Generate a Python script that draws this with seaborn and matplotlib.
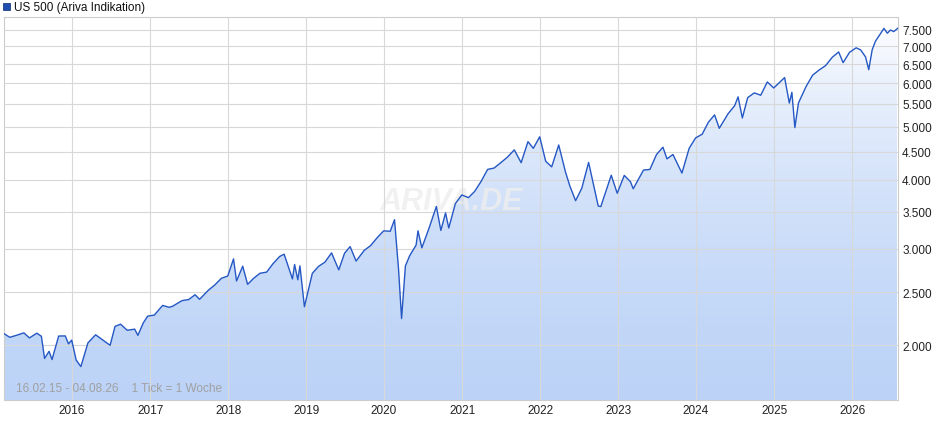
import matplotlib.pyplot as plt
import matplotlib.dates as mdates
import matplotlib.ticker as mticker
import numpy as np
import pandas as pd
import seaborn as sns

sns.set_style('white')
plt.rcParams['font.family'] = ['Liberation Sans', 'DejaVu Sans']

dates = ['2015-02-16', '2015-03-15', '2015-04-15', '2015-05-20', '2015-06-15', '2015-07-20',
         '2015-08-10', '2015-08-25', '2015-09-15', '2015-09-29', '2015-10-30', '2015-11-30', '2015-12-15', '2015-12-30',
         '2016-01-20', '2016-02-11', '2016-03-15', '2016-04-20', '2016-05-20', '2016-06-27', '2016-07-20',
         '2016-08-15', '2016-09-15', '2016-10-20', '2016-11-04', '2016-11-30', '2016-12-20',
         '2017-01-20', '2017-02-28', '2017-03-30', '2017-04-15', '2017-05-30', '2017-06-30', '2017-07-30',
         '2017-08-20', '2017-09-30', '2017-10-30', '2017-11-30', '2017-12-30',
         '2018-01-26', '2018-02-09', '2018-03-10', '2018-04-02', '2018-04-30', '2018-05-30', '2018-06-30',
         '2018-07-30', '2018-08-30', '2018-09-20', '2018-10-29', '2018-11-08', '2018-11-23', '2018-12-03', '2018-12-24',
         '2019-01-30', '2019-02-28', '2019-03-30', '2019-04-30', '2019-06-03', '2019-06-30', '2019-07-26',
         '2019-08-23', '2019-09-30', '2019-10-30', '2019-11-30', '2019-12-30',
         '2020-01-30', '2020-02-19', '2020-03-09', '2020-03-23', '2020-04-10', '2020-04-30', '2020-05-30',
         '2020-06-08', '2020-06-26', '2020-07-30', '2020-09-02', '2020-09-23', '2020-10-15', '2020-10-30',
         '2020-11-30', '2020-12-30',
         '2021-01-30', '2021-02-28', '2021-03-30', '2021-04-30', '2021-05-30', '2021-06-30', '2021-07-30',
         '2021-09-02', '2021-10-04', '2021-11-05', '2021-11-30', '2021-12-30',
         '2022-01-27', '2022-02-24', '2022-03-29', '2022-04-30', '2022-05-20', '2022-06-16', '2022-07-15',
         '2022-08-16', '2022-09-30', '2022-10-12', '2022-11-30', '2022-12-28',
         '2023-01-30', '2023-02-28', '2023-03-13', '2023-04-30', '2023-05-30', '2023-06-30', '2023-07-30',
         '2023-08-18', '2023-09-15', '2023-10-27', '2023-11-30', '2023-12-30',
         '2024-01-30', '2024-02-28', '2024-03-28', '2024-04-19', '2024-05-30', '2024-06-30', '2024-07-16',
         '2024-08-05', '2024-08-30', '2024-09-30', '2024-10-30', '2024-11-30', '2024-12-30',
         '2025-01-30', '2025-02-19', '2025-03-13', '2025-03-25', '2025-04-08', '2025-04-25', '2025-05-30',
         '2025-06-30', '2025-07-30', '2025-08-30', '2025-09-30', '2025-10-30', '2025-11-20', '2025-12-20',
         '2026-01-20', '2026-02-10', '2026-03-05', '2026-03-20', '2026-04-05', '2026-04-20', '2026-05-10',
         '2026-05-30', '2026-06-15', '2026-06-30', '2026-07-15', '2026-08-04']
values = [2100, 2068, 2085, 2107, 2063, 2104,
          2077, 1893, 1950, 1884, 2079, 2080, 2012, 2044,
          1880, 1829, 2020, 2090, 2050, 2000, 2165,
          2185, 2130, 2140, 2085, 2199, 2260,
          2270, 2364, 2345, 2355, 2412, 2423, 2472,
          2425, 2519, 2575, 2648, 2674,
          2873, 2619, 2786, 2582, 2648, 2705, 2718,
          2816, 2902, 2930, 2641, 2806, 2632, 2790, 2351,
          2704, 2784, 2834, 2946, 2744, 2942, 3025,
          2847, 2977, 3038, 3141, 3231,
          3226, 3386, 2746, 2237, 2790, 2912, 3044,
          3232, 3009, 3271, 3580, 3237, 3483, 3270,
          3622, 3756,
          3714, 3811, 3973, 4181, 4204, 4298, 4395,
          4537, 4300, 4697, 4567, 4793,
          4326, 4225, 4631, 4132, 3901, 3667, 3863,
          4305, 3586, 3577, 4080, 3783,
          4077, 3970, 3855, 4169, 4180, 4450, 4589,
          4370, 4450, 4117, 4568, 4770,
          4846, 5096, 5254, 4967, 5278, 5460, 5667,
          5186, 5648, 5762, 5705, 6032, 5882,
          6040, 6144, 5521, 5776, 4982, 5525, 5912,
          6205, 6339, 6460, 6688, 6840, 6540, 6830,
          6960, 6900, 6700, 6350, 6900, 7150, 7350,
          7550, 7400, 7500, 7450, 7560]
y_ticks = [2000, 2500, 3000, 3500, 4000, 4500, 5000, 5500, 6000, 6500, 7000, 7500]

df = pd.DataFrame({'date': pd.to_datetime(dates), 'value': values})

fig = plt.figure(figsize=(9.4, 4.35), dpi=100)
ax = fig.add_axes([4 / 940, 34 / 435, 894 / 940, 383 / 435])
ymin, ymax = 1590, 7920
x0, x1 = pd.Timestamp('2015-02-16'), pd.Timestamp('2026-08-04')
ax.set_yscale('log')
ax.set_ylim(ymin, ymax)
ax.set_xlim(x0, x1)

# gradient fill under line
xn = mdates.date2num(df['date'])
grad = np.linspace(0, 1, 256).reshape(-1, 1)
cmap = sns.blend_palette(['#bcd3f7', '#ffffff'], as_cmap=True)
im = ax.imshow(grad, aspect='auto', cmap=cmap, origin='lower',
               extent=[mdates.date2num(x0), mdates.date2num(x1), ymin, ymax], zorder=1)
poly = ax.fill_between(df['date'], values, ymin, color='none')
im.set_clip_path(poly.get_paths()[0], transform=ax.transData)

sns.lineplot(data=df, x='date', y='value', ax=ax, color='#2558c4', linewidth=1.0, zorder=3)

ax.set_yticks(y_ticks)
ax.yaxis.set_major_formatter(mticker.FuncFormatter(lambda v, p: f'{int(v):,}'.replace(',', '.')))
ax.yaxis.set_minor_locator(mticker.NullLocator())
ax.yaxis.tick_right()
ax.xaxis.set_major_locator(mdates.YearLocator())
ax.xaxis.set_major_formatter(mdates.DateFormatter('%Y'))
ax.tick_params(labelsize=8.5, length=0, pad=3, colors='#222222')
ax.grid(True, color='#d8d8d8', linewidth=0.8, zorder=2)
ax.set_axisbelow(False)
for g in ax.get_xgridlines() + ax.get_ygridlines():
    g.set_zorder(2)
for s in ax.spines.values():
    s.set_color('#cccccc')
    s.set_linewidth(0.8)
ax.set_xlabel('')
ax.set_ylabel('')

ax.text(0.5, 0.52, 'ARIVA.DE', transform=ax.transAxes, fontsize=22, fontweight='bold',
        fontstyle='italic', color='#eeeeee', alpha=0.8, ha='center', va='center', zorder=2)
ax.text(0.013, 0.015, '16.02.15 - 04.08.26    1 Tick = 1 Woche', transform=ax.transAxes,
        fontsize=8.5, color='#a0a0a0', ha='left', va='bottom', zorder=4)

fig.patches.append(plt.Rectangle((3 / 940, 1 - 11 / 435), 7 / 940, 7 / 435, transform=fig.transFigure,
                                 facecolor='#1d4fb0', edgecolor='#0a2a70', linewidth=0.5))
fig.text(14 / 940, 1 - 7.5 / 435, 'US 500 (Ariva Indikation)', fontsize=8.5, va='center', color='#111111')

fig.savefig('out.png', dpi=100)
